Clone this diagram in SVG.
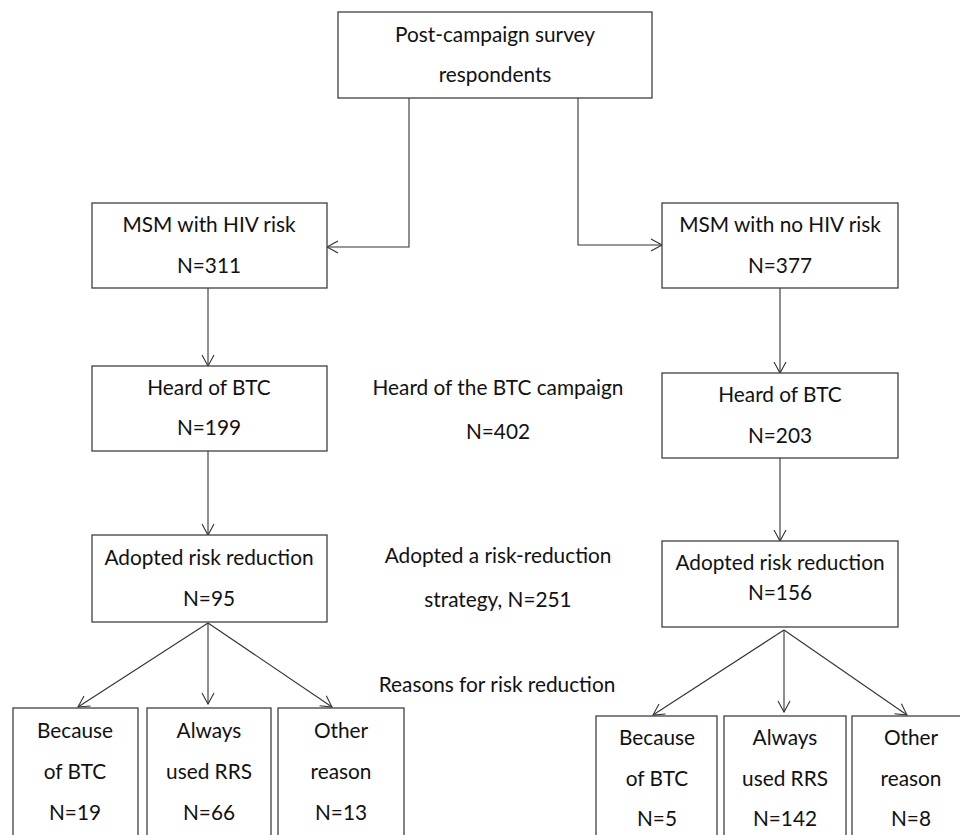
<svg xmlns="http://www.w3.org/2000/svg" width="960" height="835" viewBox="0 0 960 835">
<defs>
<style>
.box{fill:#fff;stroke:#404040;stroke-width:1.3}
.t{font-family:Lato,"Open Sans","Liberation Sans",sans-serif;font-size:20.8px;fill:#111;text-anchor:middle}
.c{fill:none;stroke:#333;stroke-width:1.1}
</style>
<marker id="arr" markerUnits="userSpaceOnUse" markerWidth="14" markerHeight="14" viewBox="0 0 14 14" refX="12" refY="7" orient="auto">
<path d="M1,1 L12,7 L1,13" fill="none" stroke="#333" stroke-width="1.1"/>
</marker>
</defs>
<rect width="960" height="835" fill="#fff"/>
<g id="connectors">
<polyline class="c" points="409,98 409,247 327,247" marker-end="url(#arr)"/>
<polyline class="c" points="578,98 578,245 662,245" marker-end="url(#arr)"/>
<line class="c" x1="208" y1="288" x2="208" y2="366" marker-end="url(#arr)"/>
<line class="c" x1="780" y1="288" x2="780" y2="373" marker-end="url(#arr)"/>
<line class="c" x1="208" y1="451" x2="208" y2="535" marker-end="url(#arr)"/>
<line class="c" x1="780" y1="458" x2="780" y2="541" marker-end="url(#arr)"/>
<line class="c" x1="208" y1="623" x2="78" y2="707" marker-end="url(#arr)"/>
<line class="c" x1="208" y1="623" x2="208" y2="704" marker-end="url(#arr)"/>
<line class="c" x1="208" y1="623" x2="332" y2="707" marker-end="url(#arr)"/>
<line class="c" x1="784" y1="630" x2="653" y2="715" marker-end="url(#arr)"/>
<line class="c" x1="784" y1="630" x2="784" y2="712" marker-end="url(#arr)"/>
<line class="c" x1="784" y1="630" x2="907" y2="715" marker-end="url(#arr)"/>
</g>
<g id="n-top"><rect class="box" x="338" y="12" width="314" height="86"/>
<text class="t" x="495" y="42">Post-campaign survey</text><text class="t" x="495" y="82">respondents</text></g>
<g id="n-hiv"><rect class="box" x="92" y="203" width="235" height="85"/>
<text class="t" x="209" y="232">MSM with HIV risk</text><text class="t" x="209" y="273">N=311</text></g>
<g id="n-nohiv"><rect class="box" x="662" y="203" width="236" height="85"/>
<text class="t" x="780" y="232">MSM with no HIV risk</text><text class="t" x="780" y="273">N=377</text></g>
<g id="n-heard-l"><rect class="box" x="92" y="366" width="235" height="85"/>
<text class="t" x="209" y="395">Heard of BTC</text><text class="t" x="209" y="435">N=199</text></g>
<g id="n-heard-r"><rect class="box" x="662" y="373" width="236" height="85"/>
<text class="t" x="780" y="402">Heard of BTC</text><text class="t" x="780" y="443">N=203</text></g>
<g id="n-adopt-l"><rect class="box" x="92" y="535" width="235" height="87"/>
<text class="t" x="209" y="565">Adopted risk reduction</text><text class="t" x="209" y="606">N=95</text></g>
<g id="n-adopt-r"><rect class="box" x="662" y="541" width="236" height="86"/>
<text class="t" x="780" y="570">Adopted risk reduction</text><text class="t" x="780" y="600">N=156</text></g>
<g id="lbl-heard"><text class="t" x="498" y="395">Heard of the BTC campaign</text><text class="t" x="498" y="439">N=402</text></g>
<g id="lbl-adopt"><text class="t" x="498" y="563">Adopted a risk-reduction</text><text class="t" x="498" y="607">strategy, N=251</text></g>
<g id="lbl-reasons"><text class="t" x="497" y="692">Reasons for risk reduction</text></g>
<g id="n-l1"><rect class="box" x="13" y="708" width="125" height="140"/>
<text class="t" x="75" y="738">Because</text><text class="t" x="75" y="779">of BTC</text><text class="t" x="75" y="820">N=19</text></g>
<g id="n-l2"><rect class="box" x="147" y="708" width="124" height="140"/>
<text class="t" x="209" y="738">Always</text><text class="t" x="209" y="779">used RRS</text><text class="t" x="209" y="820">N=66</text></g>
<g id="n-l3"><rect class="box" x="278" y="708" width="126" height="140"/>
<text class="t" x="341" y="738">Other</text><text class="t" x="341" y="779">reason</text><text class="t" x="341" y="820">N=13</text></g>
<g id="n-r1"><rect class="box" x="596" y="716" width="121" height="140"/>
<text class="t" x="657" y="745">Because</text><text class="t" x="657" y="786">of BTC</text><text class="t" x="657" y="826">N=5</text></g>
<g id="n-r2"><rect class="box" x="724" y="716" width="122" height="140"/>
<text class="t" x="785" y="745">Always</text><text class="t" x="785" y="786">used RRS</text><text class="t" x="785" y="826">N=142</text></g>
<g id="n-r3"><rect class="box" x="852" y="716" width="120" height="140"/>
<text class="t" x="911" y="745">Other</text><text class="t" x="911" y="786">reason</text><text class="t" x="911" y="826">N=8</text></g>
</svg>
